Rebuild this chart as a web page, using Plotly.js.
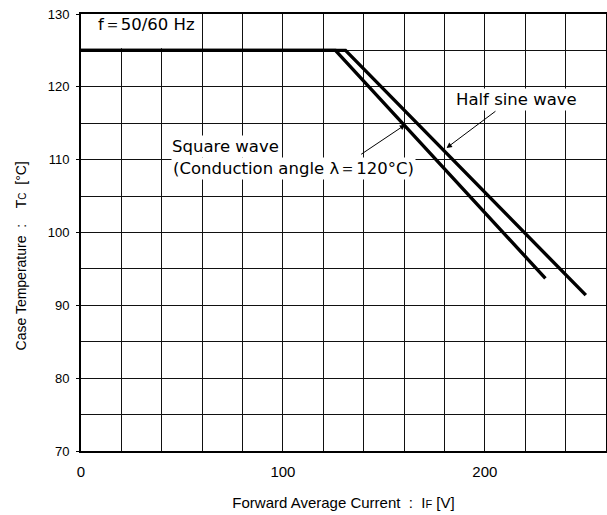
<!DOCTYPE html>
<html>
<head>
<meta charset="utf-8">
<script src="https://cdn.plot.ly/plotly-3.0.1.min.js"></script>
<style>
  html, body { margin: 0; padding: 0; background: #fff; }
  #chart { width: 607px; height: 515px; }
</style>
</head>
<body>
<div id="chart"></div>
<script>
// Square wave (conduction angle 120°)
var squareX = [0, 126, 230];
var squareY = [125, 125, 93.7];
// Half sine wave
var halfX = [0, 131, 250];
var halfY = [125, 125, 91.4];

var xTickVals = [0, 100, 200];
var xTickText = ['0', '100', '200'];
var yTickVals = [70, 80, 90, 100, 110, 120, 130];
var yTickText = ['70', '80', '90', '100', '110', '120', '130'];

var lineStyle = { color: '#000', width: 3.4 };

var traces = [
  { x: squareX, y: squareY, mode: 'lines', line: lineStyle, name: 'Square wave', hoverinfo: 'skip' },
  { x: halfX, y: halfY, mode: 'lines', line: lineStyle, name: 'Half sine wave', hoverinfo: 'skip' }
];

var NB = '\u00A0';
function sp(n) { var s = ''; for (var i = 0; i < n; i++) s += NB; return s; }
var annFont = { family: 'DejaVu Sans, sans-serif', size: 16.5, color: '#000' };

var layout = {
  width: 607,
  height: 515,
  margin: { l: 81, r: 1, t: 14, b: 64 },
  paper_bgcolor: '#fff',
  plot_bgcolor: '#fff',
  showlegend: false,
  font: { family: 'Liberation Sans, Arial, sans-serif', color: '#000' },
  xaxis: {
    range: [0, 260],
    tickvals: xTickVals,
    ticktext: xTickText,
    tickfont: { size: 15, family: 'Liberation Sans, Arial, sans-serif', color: '#000' },
    ticks: '',
    ticklabelstandoff: 6,
    showgrid: true,
    gridcolor: '#111',
    gridwidth: 1,
    minor: { dtick: 20, tick0: 0, showgrid: true, gridcolor: '#111', gridwidth: 1, ticks: '' },
    zeroline: false,
    showline: true,
    linecolor: '#000',
    linewidth: 2,
    mirror: true,
    fixedrange: true,
    title: {
      text: 'Forward Average Current' + sp(2) + ':' + sp(2) + 'I<span style="font-size:11px">F</span><span style="font-size:15px">' + NB + '[V]</span>',
      font: { size: 15, family: 'Liberation Sans, Arial, sans-serif', color: '#000' },
      standoff: 18
    }
  },
  yaxis: {
    range: [70, 130],
    tickvals: yTickVals,
    ticktext: yTickText,
    tickfont: { size: 13, family: 'Liberation Sans, Arial, sans-serif', color: '#000' },
    ticks: 'outside',
    ticklen: 3,
    tickcolor: '#000',
    ticklabelstandoff: 4,
    showgrid: true,
    gridcolor: '#111',
    gridwidth: 1,
    minor: { dtick: 5, tick0: 70, showgrid: true, gridcolor: '#111', gridwidth: 1, ticks: '' },
    zeroline: false,
    showline: true,
    linecolor: '#000',
    linewidth: 2,
    mirror: true,
    fixedrange: true,
    title: {
      text: 'Case Temperature' + sp(2) + ':' + sp(4) + 'T<span style="font-size:10px">C</span><span style="font-size:14px">' + sp(2) + '[°C]' + sp(12) + '</span>',
      font: { size: 14, family: 'Liberation Sans, Arial, sans-serif', color: '#000' },
      standoff: 18
    }
  },
  shapes: [
    { type: 'rect', xref: 'x', yref: 'y', x0: 0, x1: 59.4, y0: 125.3, y1: 130,
      fillcolor: '#fff', line: { width: 0 }, layer: 'between' }
  ],
  annotations: [
    { xref: 'x', yref: 'y', x: 7.5, y: 128.5, xanchor: 'left', yanchor: 'middle',
      text: 'f＝50/60' + NB + 'Hz', showarrow: false, font: annFont },
    { xref: 'x', yref: 'y', x: 44, y: 111.8, xanchor: 'left', yanchor: 'middle',
      text: 'Square' + NB + 'wave', showarrow: false, font: annFont, bgcolor: '#fff' },
    { xref: 'x', yref: 'y', x: 44.6, y: 108.8, xanchor: 'left', yanchor: 'middle',
      text: '(Conduction' + NB + 'angle' + NB + 'λ＝120°C)', showarrow: false, font: annFont, bgcolor: '#fff' },
    { xref: 'x', yref: 'y', x: 184.5, y: 118.2, xanchor: 'left', yanchor: 'middle',
      text: 'Half' + NB + 'sine' + NB + 'wave', showarrow: false, font: annFont, bgcolor: '#fff' },
    { xref: 'x', yref: 'y', axref: 'x', ayref: 'y', x: 160.6, y: 114.8, ax: 138, ay: 110.6,
      text: '', showarrow: true, arrowhead: 2, arrowsize: 1.1, arrowwidth: 1, arrowcolor: '#000' },
    { xref: 'x', yref: 'y', axref: 'x', ayref: 'y', x: 181, y: 111.6, ax: 206, ay: 116.8,
      text: '', showarrow: true, arrowhead: 2, arrowsize: 1.1, arrowwidth: 1, arrowcolor: '#000' }
  ]
};

Plotly.newPlot('chart', traces, layout, { staticPlot: true, displayModeBar: false });
</script>
</body>
</html>
